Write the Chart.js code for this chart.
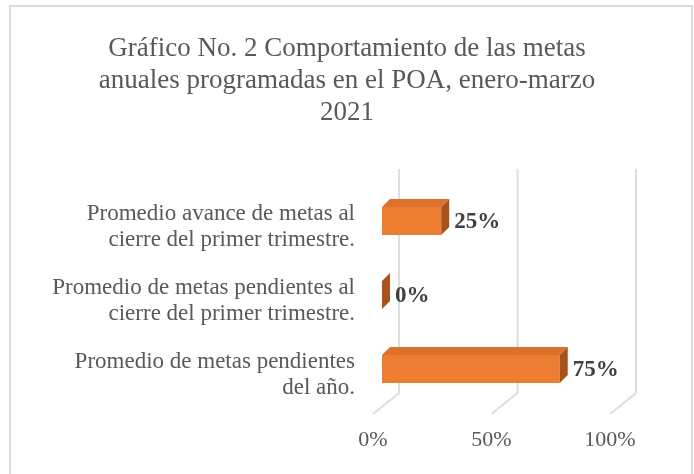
<!DOCTYPE html>
<html>
<head>
<meta charset="utf-8">
<script src="https://cdn.jsdelivr.net/npm/chart.js@4.4.1/dist/chart.umd.min.js"></script>
<style>
  html, body { margin: 0; padding: 0; background: #fff; }
  canvas { display: block; }
</style>
</head>
<body>
<canvas id="chart" width="694" height="474"></canvas>
<script>
// --- Data ---
const titleLines = ['Gráfico No. 2 Comportamiento de las metas', 'anuales programadas en el POA, enero-marzo', '2021'];
const categories = [
    ['Promedio avance de metas al', 'cierre del primer trimestre.'],
    ['Promedio de metas pendientes al', 'cierre del primer trimestre.'],
    ['Promedio de metas pendientes', 'del año.']
];
const values = [25, 0, 75];
const tickValues = [0, 50, 100];

const SERIF = "'Liberation Serif', 'DejaVu Serif', serif";
const GREY = '#595959';

// --- Fake 3D drawing ---
const depth = { bar: 8, backX: 17, frontX: -9 };

const frame = {
    id: 'frame',
    beforeDraw(chart) {
        const ctx = chart.ctx;
        ctx.save();
        ctx.fillStyle = '#fff';
        ctx.fillRect(0, 0, chart.width, chart.height);
        ctx.strokeStyle = '#d9d9d9';
        ctx.lineWidth = 2;
        ctx.strokeRect(10, 6, 682, 500);
        ctx.restore();
    }
};

const walls = {
    id: 'walls',
    beforeDatasetsDraw(chart) {
        const ctx = chart.ctx, area = chart.chartArea, xs = chart.scales.x;
        const backTop = area.top - 15, backBottom = area.bottom - 13, front = area.bottom + 8;
        ctx.save();
        ctx.strokeStyle = '#dedede';
        ctx.lineWidth = 2;
        tickValues.forEach(v => {
            const px = xs.getPixelForValue(v);
            ctx.beginPath();
            ctx.moveTo(px + depth.backX, backTop);
            ctx.lineTo(px + depth.backX, backBottom);
            ctx.lineTo(px + depth.frontX, front);
            ctx.stroke();
        });
        ctx.restore();
    }
};

const bars3d = {
    id: 'bars3d',
    afterDatasetsDraw(chart) {
        const ctx = chart.ctx, d = depth.bar;
        const meta = chart.getDatasetMeta(0);
        ctx.save();
        meta.data.forEach((bar, i) => {
            const p = bar.getProps(['x', 'y', 'base', 'height'], true);
            const left = Math.min(p.base, p.x), right = Math.max(p.base, p.x);
            const top = p.y - p.height / 2, bottom = p.y + p.height / 2;
            // top face
            if (right - left > 0.5) {
                ctx.fillStyle = '#dc7129';
                ctx.beginPath();
                ctx.moveTo(left, top);
                ctx.lineTo(left + d, top - d);
                ctx.lineTo(right + d, top - d);
                ctx.lineTo(right, top);
                ctx.closePath();
                ctx.fill();
            }
            // side face
            ctx.fillStyle = '#a9531c';
            ctx.beginPath();
            ctx.moveTo(right, top);
            ctx.lineTo(right + d, top - d);
            ctx.lineTo(right + d, bottom - d);
            ctx.lineTo(right, bottom);
            ctx.closePath();
            ctx.fill();
            // value label
            ctx.fillStyle = '#404040';
            ctx.font = 'bold 23px ' + SERIF;
            ctx.textAlign = 'left';
            ctx.textBaseline = 'middle';
            ctx.fillText(values[i] + '%', right + d + 5, p.y + 1);
        });
        ctx.restore();
    }
};

new Chart(document.getElementById('chart'), {
    type: 'bar',
    data: {
        labels: categories,
        datasets: [{
            data: values,
            backgroundColor: '#ed7d31',
            borderWidth: 0,
            barPercentage: 0.38,
            categoryPercentage: 1.0
        }]
    },
    options: {
        indexAxis: 'y',
        responsive: false,
        devicePixelRatio: 1,
        animation: false,
        layout: { padding: { left: 20, right: 20, top: 0, bottom: 0 } },
        plugins: {
            legend: { display: false },
            tooltip: { enabled: false },
            title: {
                display: true,
                text: titleLines,
                color: GREY,
                font: { family: SERIF, size: 27, weight: 'normal', lineHeight: '32px' },
                padding: { top: 33, bottom: 55 }
            }
        },
        scales: {
            x: {
                min: 0,
                max: 100,
                afterBuildTicks: scale => { scale.ticks = tickValues.map(v => ({ value: v })); },
                afterFit: scale => { scale.height = 68; },
                border: { display: false },
                grid: { display: false, drawTicks: false },
                ticks: {
                    color: GREY,
                    font: { family: SERIF, size: 22 },
                    padding: 21,
                    labelOffset: -9,
                    callback: v => v + '%'
                }
            },
            y: {
                afterFit: scale => { scale.width = 362; },
                border: { display: false },
                grid: { display: false, drawTicks: false },
                ticks: {
                    color: GREY,
                    font: { family: SERIF, size: 23, lineHeight: '26px' },
                    padding: 27,
                    labelOffset: 6
                }
            },
            // empty right-hand axis, only keeps space for the 3D depth and labels
            yRight: {
                type: 'category',
                position: 'right',
                afterFit: scale => { scale.width = 55; },
                border: { display: false },
                grid: { display: false, drawTicks: false },
                ticks: { display: false }
            }
        }
    },
    plugins: [frame, walls, bars3d]
});
</script>
</body>
</html>
